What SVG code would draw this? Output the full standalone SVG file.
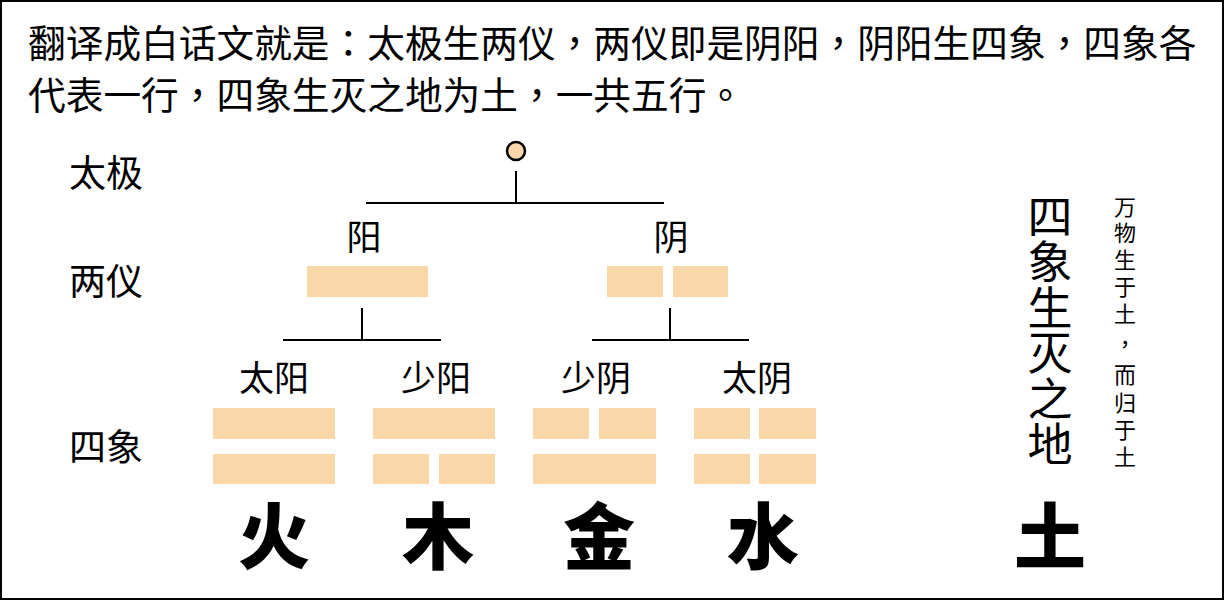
<svg xmlns="http://www.w3.org/2000/svg" width="1224" height="601" viewBox="0 0 1224 601">
<style>
text{font-family:"Noto Sans CJK SC","Noto Sans",sans-serif;fill:#000}
.title{font-size:37.7px;font-family:"Noto Sans CJK TC","Noto Sans CJK SC",sans-serif}
.lvl{font-size:37px}
.lbl{font-size:35px;text-anchor:middle}
.big{font-size:72px;font-weight:900;text-anchor:middle}
.vert{font-size:45px;text-anchor:middle}
.small{font-size:22px;text-anchor:middle}
.tc{font-family:"Noto Sans CJK TC","Noto Sans CJK SC",sans-serif}
.bar{fill:#FAD7A8}
.conn line{stroke:#000;stroke-width:2}
</style>
<rect x="1" y="1" width="1222" height="598" fill="#fff" stroke="#000" stroke-width="2"/>
<g id="title">
<text class="title" x="28" y="57">翻译成白话文就是：太极生两仪，两仪即是阴阳，阴阳生四象，四象各</text>
<text class="title" x="28" y="109">代表一行，四象生灭之地为土，一共五行。</text>
</g>
<g id="levels">
<text class="lvl" x="69" y="187">太极</text>
<text class="lvl" x="69" y="295">两仪</text>
<text class="lvl" x="69" y="461">四象</text>
</g>
<g class="conn" id="connectors">
<line x1="516" y1="171" x2="516" y2="203"/>
<line x1="366" y1="203" x2="664" y2="203"/>
<line x1="362" y1="308" x2="362" y2="340"/>
<line x1="283" y1="340" x2="441" y2="340"/>
<line x1="670" y1="308" x2="670" y2="340"/>
<line x1="592" y1="340" x2="749" y2="340"/>
</g>
<g id="taiji">
<circle cx="516" cy="151" r="9" fill="#FAD7A8" stroke="#000" stroke-width="2.5"/>
</g>
<g id="yang">
<text class="lbl" x="364" y="250">阳</text>
<rect class="bar" x="307" y="266" width="121" height="31"/>
</g>
<g id="yin">
<text class="lbl" x="671" y="250">阴</text>
<rect class="bar" x="607" y="266" width="56" height="31"/>
<rect class="bar" x="673" y="266" width="55" height="31"/>
</g>
<g id="taiyang">
<text class="lbl" x="274" y="391">太阳</text>
<rect class="bar" x="213" y="408" width="122" height="31"/>
<rect class="bar" x="213" y="454" width="122" height="30"/>
<text class="big" x="274" y="563">火</text>
</g>
<g id="shaoyang">
<text class="lbl" x="436" y="391">少阳</text>
<rect class="bar" x="373" y="408" width="122" height="31"/>
<rect class="bar" x="373" y="454" width="56" height="30"/>
<rect class="bar" x="439" y="454" width="56" height="30"/>
<text class="big" x="438" y="563">木</text>
</g>
<g id="shaoyin">
<text class="lbl" x="596" y="391">少阴</text>
<rect class="bar" x="533" y="408" width="56" height="31"/>
<rect class="bar" x="599" y="408" width="57" height="31"/>
<rect class="bar" x="533" y="454" width="123" height="30"/>
<text class="big" x="599" y="563">金</text>
</g>
<g id="taiyin">
<text class="lbl" x="757" y="391">太阴</text>
<rect class="bar" x="694" y="408" width="56" height="31"/>
<rect class="bar" x="759" y="408" width="57" height="31"/>
<rect class="bar" x="694" y="454" width="56" height="30"/>
<rect class="bar" x="759" y="454" width="57" height="30"/>
<text class="big" x="763" y="563">水</text>
</g>
<g id="earth">
<text class="vert" x="1050"><tspan x="1050" y="234">四</tspan><tspan x="1050" y="279">象</tspan><tspan x="1050" y="325">生</tspan><tspan x="1050" y="370">灭</tspan><tspan x="1050" y="416">之</tspan><tspan x="1050" y="461">地</tspan></text>
<text class="small" x="1125"><tspan x="1125" y="215">万</tspan><tspan x="1125" y="241">物</tspan><tspan x="1125" y="268">生</tspan><tspan x="1125" y="295">于</tspan><tspan x="1125" y="322">土</tspan><tspan class="tc" x="1125" y="352">，</tspan><tspan x="1125" y="383">而</tspan><tspan x="1125" y="411">归</tspan><tspan x="1125" y="438">于</tspan><tspan x="1125" y="465">土</tspan></text>
<text class="big" x="1050" y="563">土</text>
</g>
</svg>
